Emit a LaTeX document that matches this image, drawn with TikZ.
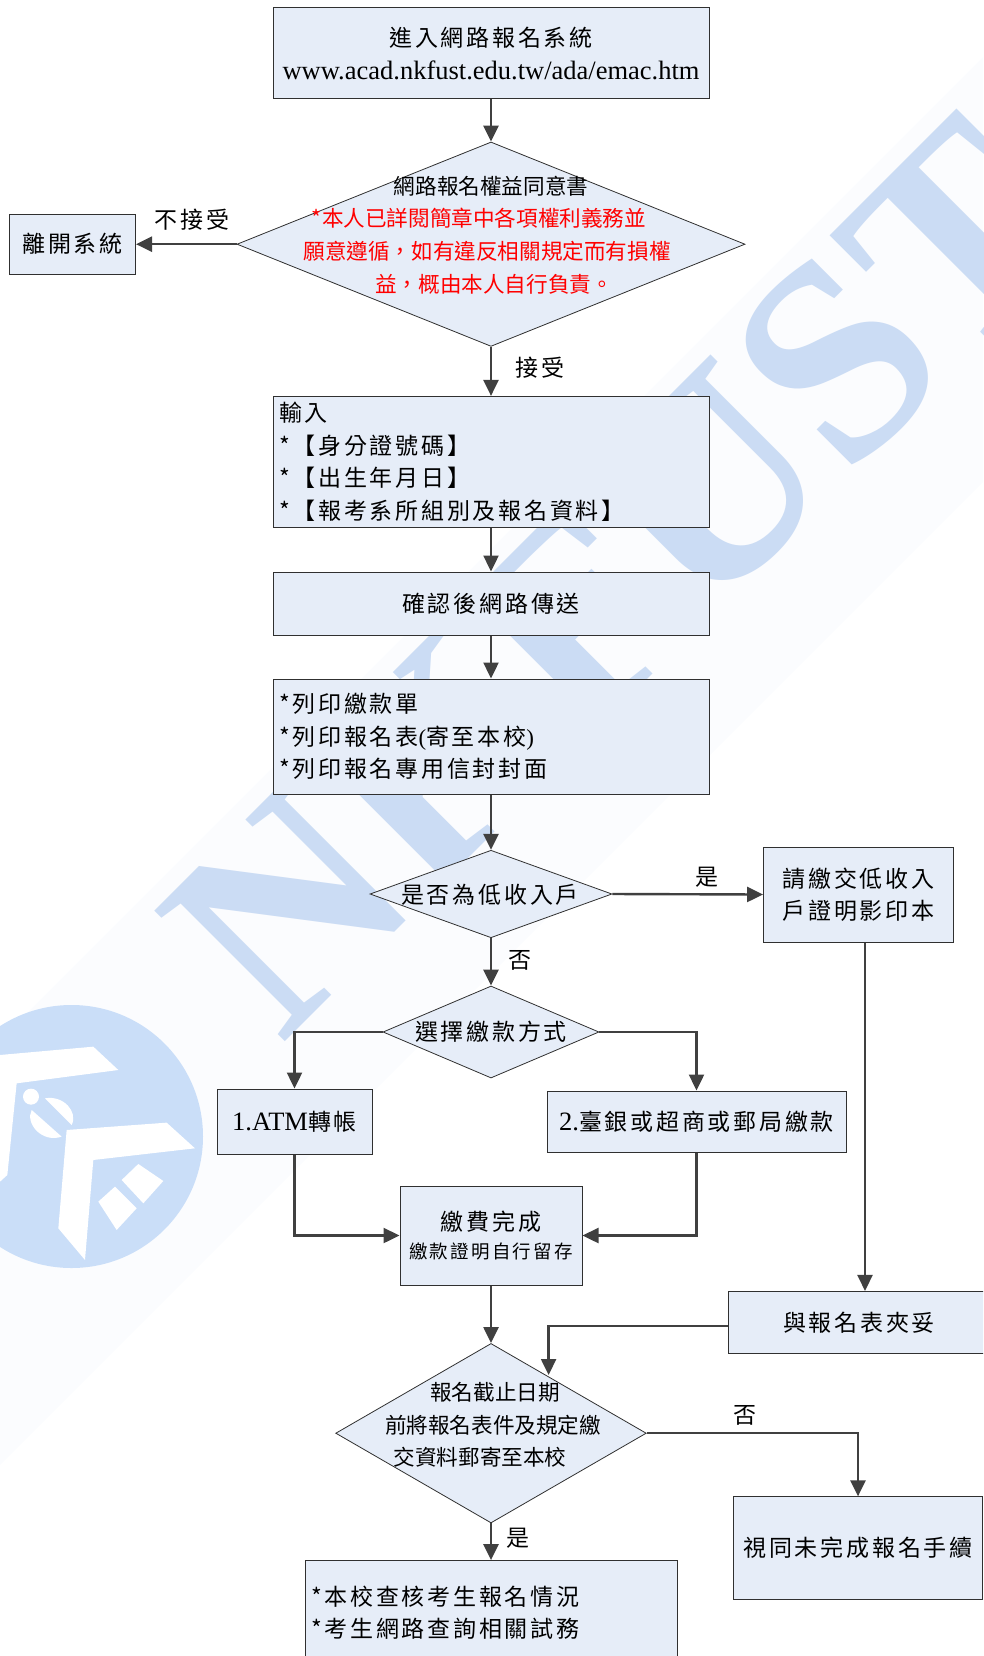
\documentclass[tikz,border=0pt]{standalone}
\usepackage{fontspec}
\setmainfont{Liberation Serif}
\newfontfamily\cjk{Noto Sans CJK TC}
\newfontfamily\cjkwide[LetterSpace=12]{Noto Sans CJK TC}
\usetikzlibrary{arrows.meta,shapes.geometric}
\definecolor{boxfill}{HTML}{E6EDF8}
\definecolor{boxline}{HTML}{303030}
\definecolor{flowline}{HTML}{404040}
\definecolor{logoblue}{HTML}{CADEF8}
\definecolor{letterblue}{HTML}{CBDCF4}
\definecolor{paleband}{HTML}{FBFCFE}
\tikzset{
	box/.style 2 args={draw=boxline, fill=boxfill, line width=1pt, minimum width=#1, minimum height=#2, inner sep=0pt},
	decision/.style 2 args={diamond, draw=boxline, fill=boxfill, line width=.8pt, minimum width=#1, minimum height=#2, inner sep=0pt},
	listbox/.style={align=left, text width=#1, inner sep=0pt},
	wide/.style={font=\cjkwide\fontsize{23}{32.4}\selectfont},
	tight/.style={font=\cjk\fontsize{21.6}{32.4}\selectfont},
	flow/.style={draw=flowline, line width=2.4pt, -{Triangle[length=16pt,width=15pt]}},
}
\begin{document}
\begin{tikzpicture}[x=1pt, y=-1pt]
	\useasboundingbox (0,0) rectangle (983,1656);
	\clip (0,0) rectangle (983,1656);
	\fill[paleband] (983,57) -- (983,482) -- (0,1465) -- (0,1040) -- cycle;
	\node[rotate=45, anchor=base, inner sep=0pt, text=letterblue, font=\bfseries\fontsize{282}{282}\selectfont] (wmark) at (686,641) {NKFUST};
	\fill[logoblue] (71.5,1136.5) circle (131.5);
	\begin{scope}[shift={(0,980)}, x=.3333pt, y=-.3333pt, white]
		\fill (0,225) -- (280,200) -- (355,270) -- (50,310) -- (22,585) -- (0,605) -- cycle;
		\fill (200,450) -- (500,428) -- (585,505) -- (280,540) -- (255,840) -- (175,745) -- cycle;
		\fill (365,600) -- (415,552) -- (490,603) -- (430,670) -- cycle;
		\fill (295,665) -- (345,620) -- (410,685) -- (350,750) -- cycle;
		\fill (93,350) circle (24);
		\fill (135,355) .. controls (190,345) and (235,395) .. (215,435) -- cycle;
		\fill (95,390) .. controls (75,430) and (125,490) .. (185,470) -- cycle;
	\end{scope}

	\node[box={436}{90.6}, wide, align=center] (enter) at (491,53.3) {進入網路報名系統\\{\rmfamily\fontsize{26.5}{32.4}\selectfont www.acad.nkfust.edu.tw/ada/emac.htm}};
	\node[decision={508}{204.4}]    (agree)  at (491,244.2)  {};
	\node[tight]                    (agree1) at (491,186)    {網路報名權益同意書};
	\node[tight, text=red]          (agree2) at (479,218.6)  {*本人已詳閱簡章中各項權利義務並};
	\node[tight, text=red]          (agree3) at (487,251)    {願意遵循，如有違反相關規定而有損權};
	\node[tight, text=red]          (agree4) at (494,284)    {益，概由本人自行負責。};
	\node[box={126}{60}, wide]      (leave)  at (72.5,244.2) {離開系統};
	\node[wide]                     (refuse) at (192,220)    {不接受};
	\node[wide]                     (accept) at (540,368)    {接受};
	\node[box={436}{130.6}, wide, listbox=424pt] (input) at (491,461.7) {輸入\\{}*【身分證號碼】\\{}*【出生年月日】\\{}*【報考系所組別及報名資料】};
	\node[box={436}{63}, wide]      (send)   at (491,603.5)  {確認後網路傳送};
	\node[box={436}{115}, wide, listbox=424pt] (print) at (491,736.5) {*列印繳款單\\{}*列印報名表{\rmfamily(}寄至本校{\rmfamily)}\\{}*列印報名專用信封封面};
	\node[decision={242}{87.5}]     (poor)   at (491,894)    {};
	\node[wide]                     (poor1)  at (490,895)    {是否為低收入戶};
	\node[box={190}{95}, wide, align=center] (proof) at (858.6,894.5) {請繳交低收入\\戶證明影印本};
	\node[wide]                     (yes)    at (707,877)    {是};
	\node[wide]                     (no)     at (520,960)    {否};
	\node[decision={216}{92}]       (pay)    at (491,1032)   {};
	\node[wide]                     (pay1)   at (491,1032)   {選擇繳款方式};
	\node[box={155}{65}, wide]      (atm)    at (294.5,1121.5) {{\rmfamily\fontsize{26.5}{26.5}\selectfont 1.ATM}轉帳};
	\node[box={299}{61}, wide]      (bank)   at (696.5,1121.5) {{\rmfamily\fontsize{26.5}{26.5}\selectfont 2.}臺銀或超商或郵局繳款};
	\node[box={182}{99}, wide, align=center] (done) at (491,1235.5) {繳費完成\\[-5pt]{\fontsize{18.5}{24}\selectfont 繳款證明自行留存}};
	\node[box={262}{62.5}, wide]    (attach) at (859,1322.7) {與報名表夾妥};
	\node[decision={310.6}{179.5}]  (mail)   at (491,1433.2) {};
	\node[tight]                    (mail1)  at (495,1392)   {報名截止日期};
	\node[tight]                    (mail2)  at (493,1425)   {前將報名表件及規定繳};
	\node[tight]                    (mail3)  at (480,1457)   {交資料郵寄至本校};
	\node[wide]                     (late)   at (745,1415)   {否};
	\node[wide]                     (ontime) at (518,1538)   {是};
	\node[box={248.6}{102.3}, wide] (fail)   at (858,1548)   {視同未完成報名手續};
	\node[box={372}{104}, wide, listbox=360pt] (check) at (491,1612.6) {*本校查核考生報名情況\\{}*考生網路查詢相關試務};
	\coordinate (mailin) at (548.6,1375);

	\draw[flow] (enter.south) -- (agree.north);
	\draw[flow] (agree.west)  -- (leave.east);
	\draw[flow] (agree.south) -- (input.north);
	\draw[flow] (input.south) -- (send.north);
	\draw[flow] (send.south)  -- (print.north);
	\draw[flow] (print.south) -- (poor.north);
	\draw[flow] (poor.east)   -- (proof.west);
	\draw[flow] (poor.south)  -- (pay.north);
	\draw[flow] (pay.west)    -| (atm.north);
	\draw[flow] (pay.east)    -| (bank.north);
	\draw[flow] (atm.south)   |- (done.west);
	\draw[flow] (bank.south)  |- (done.east);
	\draw[flow] (done.south)  -- (mail.north);
	\draw[flow] ([xshift=6.4pt]proof.south) -- ([xshift=6.4pt]proof.south |- attach.north);
	\draw[flow] ([yshift=-3.5pt]attach.west) -| (mailin);
	\draw[flow] (mail.east)   -| (fail.north);
	\draw[flow] (mail.south)  -- (check.north);
\end{tikzpicture}
\end{document}
